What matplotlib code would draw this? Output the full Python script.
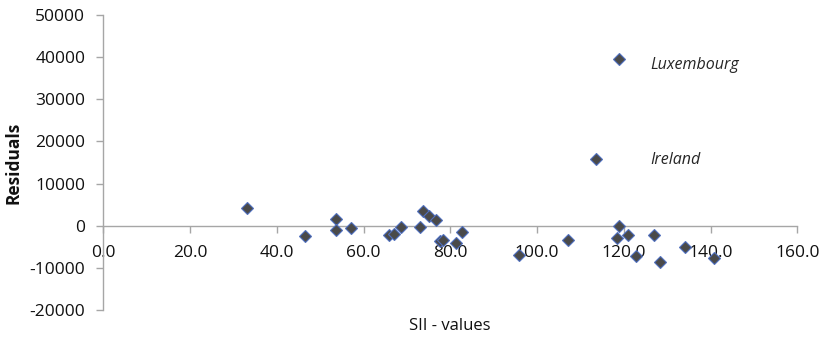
import numpy as np
import matplotlib
matplotlib.use('Agg')
import matplotlib.pyplot as plt

# SII values and residuals
sii = [33.1, 46.6, 53.6, 53.6, 57.0, 65.9, 67.0, 68.7, 73.1, 73.6, 75.1, 76.7,
       77.6, 78.3, 81.4, 82.8, 95.9, 107.1, 113.6, 118.5, 119.0, 119.0, 121.0,
       122.9, 127.0, 128.4, 134.0, 140.8]
residuals = [4100, -2440, 1660, -950, -630, -2200, -2060, -400, -310, 3550, 2200, 1260,
             -3720, -3480, -4100, -1500, -6950, -3320, 15880, -3000, 39570, -160, -2130,
             -7180, -2130, -8690, -5050, -7580]

labels = ['Luxembourg', 'Ireland']
label_x = [126.2, 126.2]
label_y = [38200, 15600]

x_ticks = np.arange(0, 161, 20)
y_ticks = np.arange(-20000, 50001, 10000)

plt.rcParams['font.family'] = ['Open Sans', 'DejaVu Sans']
plt.rcParams['axes.unicode_minus'] = False
axis_grey = '#a6a6a6'

fig = plt.figure(figsize=(8.23, 3.37), dpi=100)
ax = fig.add_axes([0.1255, 0.0801, 0.8433, 0.8754])

ax.plot(sii, residuals, linestyle='none', marker='D', markersize=6.5,
        markerfacecolor='#4a4a4a', markeredgecolor='#4f6fbf', markeredgewidth=0.8,
        zorder=3)

for name, lx, ly in zip(labels, label_x, label_y):
    ax.text(lx, ly, name, style='italic', fontsize=11.5, color='#262626',
            ha='left', va='center')

ax.set_xlim(0, 160)
ax.set_ylim(-20000, 50000)
ax.set_xticks(x_ticks)
ax.set_xticklabels(['%.1f' % v for v in x_ticks])
ax.set_yticks(y_ticks)

# x axis crosses at zero like the Excel original
ax.spines['bottom'].set_position(('data', 0))
ax.spines['top'].set_visible(False)
ax.spines['right'].set_visible(False)
for side in ['left', 'bottom']:
    ax.spines[side].set_color(axis_grey)
    ax.spines[side].set_linewidth(1.0)

ax.tick_params(axis='both', colors=axis_grey, labelcolor='#111111',
               labelsize=12.5, length=5, width=1.0, direction='out')
ax.tick_params(axis='x', pad=9)
ax.tick_params(axis='y', pad=8)

fig.text(0.5468, 0.032, 'SII - values', ha='center', va='center',
         fontsize=12, color='#111111')
fig.text(0.016, 0.518, 'Residuals', ha='center', va='center', rotation=90,
         fontsize=12.5, fontweight='bold', color='#111111')

fig.savefig('out.png', dpi=100)
